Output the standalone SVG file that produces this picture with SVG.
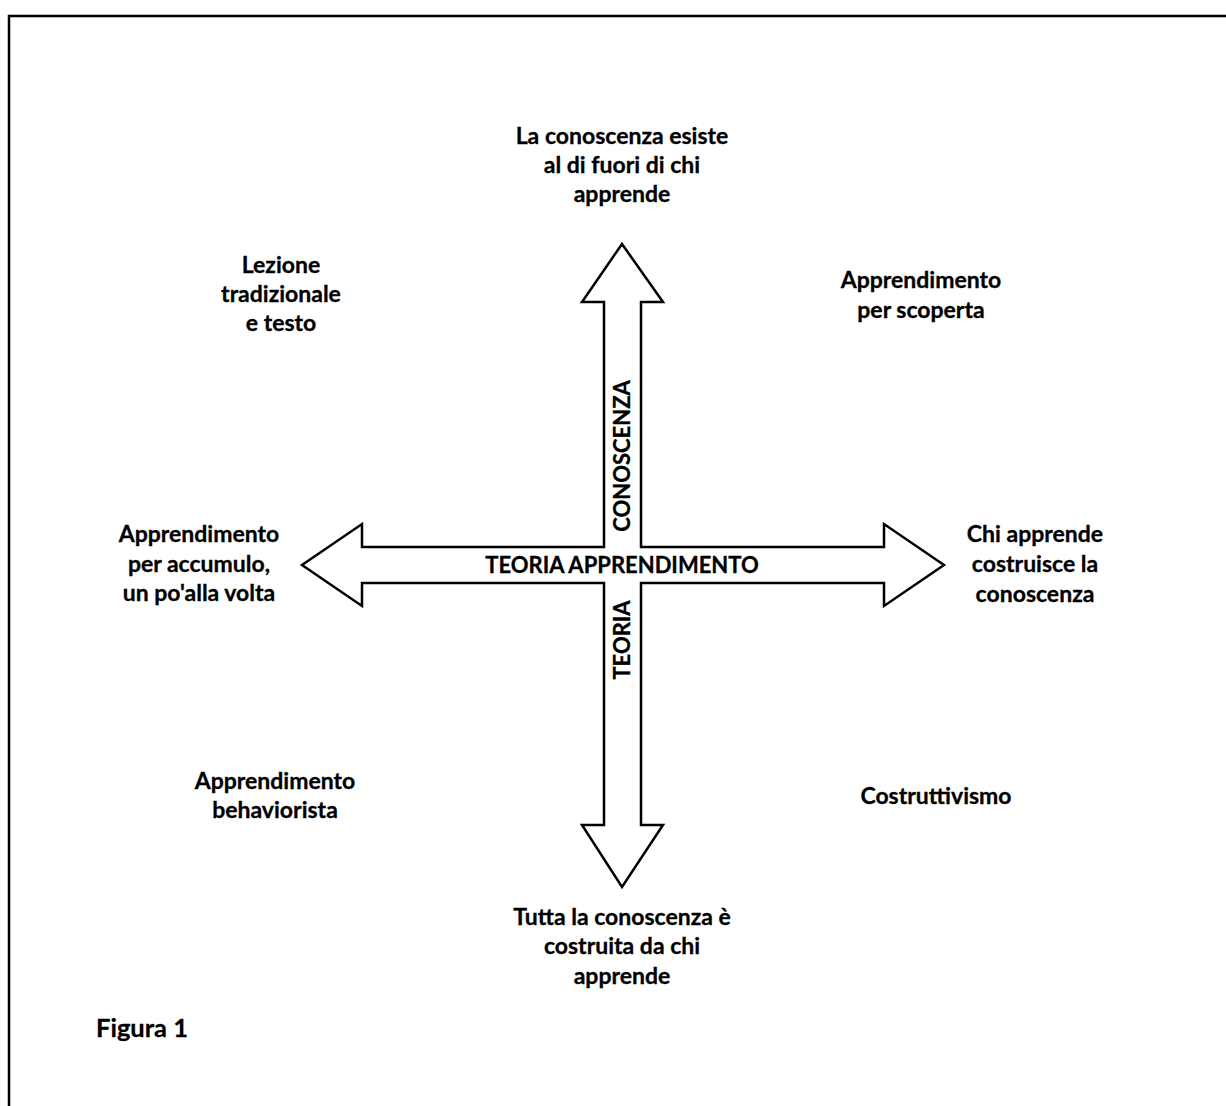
<svg xmlns="http://www.w3.org/2000/svg" width="1226" height="1106" viewBox="0 0 1226 1106">
<style>
  .t{font-family:Lato,"Open Sans","Liberation Sans",sans-serif;font-weight:bold;font-size:23px;fill:#000;text-anchor:middle;stroke:#000;stroke-width:0.3}
  .fig{font-family:Lato,"Open Sans","Liberation Sans",sans-serif;font-weight:bold;font-size:25.5px;fill:#000;stroke:#000;stroke-width:0.3}
  .arrow{fill:#fff;stroke:#000;stroke-width:2.5;stroke-linejoin:miter}
</style>
<rect x="0" y="0" width="1226" height="1106" fill="#fff"/>
<rect x="9" y="16" width="1240" height="1120" fill="none" stroke="#000" stroke-width="2.5"/>
<g id="connectors">
  <path class="arrow" d="M622,244 L663,302 L641,302 L641,547 L884,547 L884,524 L944,565 L884,606 L884,583 L641,583 L641,825 L663,825 L622,887 L582,825 L604,825 L604,583 L362,583 L362,606 L302,565 L362,524 L362,547 L604,547 L604,302 L582,302 Z"/>
  <text class="t" x="622" y="573" style="font-size:22px">TEORIA APPRENDIMENTO</text>
  <text class="t" transform="translate(630,456) rotate(-90)" x="0" y="0" style="font-size:22px">CONOSCENZA</text>
  <text class="t" transform="translate(630,640) rotate(-90)" x="0" y="0" style="font-size:22px">TEORIA</text>
</g>
<g id="top">
  <text class="t" x="622" y="144">La conoscenza esiste</text>
  <text class="t" x="622" y="173">al di fuori di chi</text>
  <text class="t" x="622" y="202">apprende</text>
</g>
<g id="topleft">
  <text class="t" x="281" y="273">Lezione</text>
  <text class="t" x="281" y="302">tradizionale</text>
  <text class="t" x="281" y="331">e testo</text>
</g>
<g id="topright">
  <text class="t" x="921" y="288">Apprendimento</text>
  <text class="t" x="921" y="318">per scoperta</text>
</g>
<g id="left">
  <text class="t" x="199" y="542">Apprendimento</text>
  <text class="t" x="199" y="572">per accumulo,</text>
  <text class="t" x="199" y="601">un po'alla volta</text>
</g>
<g id="right">
  <text class="t" x="1035" y="542">Chi apprende</text>
  <text class="t" x="1035" y="572">costruisce la</text>
  <text class="t" x="1035" y="602">conoscenza</text>
</g>
<g id="bottomleft">
  <text class="t" x="275" y="789">Apprendimento</text>
  <text class="t" x="275" y="818">behaviorista</text>
</g>
<g id="bottomright">
  <text class="t" x="936" y="804">Costruttivismo</text>
</g>
<g id="bottom">
  <text class="t" x="622" y="925">Tutta la conoscenza è</text>
  <text class="t" x="622" y="954">costruita da chi</text>
  <text class="t" x="622" y="984">apprende</text>
</g>
<g id="caption">
  <text class="fig" x="96" y="1037">Figura 1</text>
</g>
</svg>
